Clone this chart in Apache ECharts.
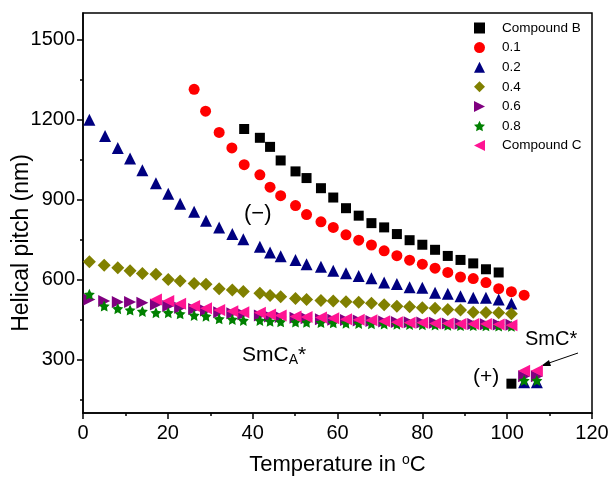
<!DOCTYPE html>
<html>
<head>
<meta charset="utf-8">
<script src="https://cdn.jsdelivr.net/npm/echarts@6/dist/echarts.min.js"></script>
<style>
  html, body { margin: 0; padding: 0; background: #fff; }
  #chart { width: 611px; height: 477px; }
</style>
</head>
<body>
<div id="chart"></div>
<script>
// Temperature (°C) and helical pitch (nm)
const tempB = [38, 41.7, 44.1, 46.6, 50.1, 52.7, 56.1, 59, 62, 65, 68, 71, 74, 77, 80, 83, 86, 89, 92, 95, 98, 101];
const pitchB = [1165, 1132, 1098, 1047, 1006, 981, 943, 908, 868, 840, 812, 796, 771, 748, 731, 712, 689, 674, 661, 639, 627, 210];

const temp01 = [26.2, 28.9, 32.1, 35.1, 38, 41.7, 44.1, 46.6, 50.1, 52.7, 56.1, 59, 62, 65, 68, 71, 74, 77, 80, 83, 86, 89, 92, 95, 98, 101, 104];
const pitch01 = [1314, 1232, 1152, 1094, 1031, 993, 947, 915, 878, 844, 817, 796, 768, 748, 730, 708, 690, 673, 658, 643, 627, 610, 604, 589, 566, 555, 542];

const temp02 = [1.5, 5.2, 8.2, 11.1, 14, 17.2, 20.1, 22.9, 26.2, 29, 32.1, 35.2, 37.8, 41.7, 44.1, 46.6, 50.1, 52.7, 56.1, 59, 62, 65, 68, 71, 74, 77, 80, 83, 86, 89, 92, 95, 98, 101, 104, 107];
const pitch02 = [1200, 1139, 1094, 1054, 1010, 962, 922, 885, 855, 821, 796, 771, 752, 723, 702, 688, 674, 658, 648, 633, 624, 614, 605, 589, 584, 572, 570, 551, 547, 538, 532, 532, 526, 511, 215, 215];

const temp04 = [1.5, 5, 8.2, 11.1, 14, 17.2, 20.1, 22.9, 26.2, 29, 32.1, 35.2, 37.8, 41.7, 44.1, 46.6, 50.1, 52.7, 56.1, 59, 62, 65, 68, 71, 74, 77, 80, 83, 86, 89, 92, 95, 98, 101];
const pitch04 = [667, 654, 645, 633, 623, 620, 601, 595, 586, 583, 566, 561, 556, 549, 541, 536, 529, 526, 522, 520, 517, 515, 512, 506, 500, 498, 495, 493, 488, 486, 478, 477, 476, 472];

const temp06 = [1.5, 5, 8.2, 11.1, 14, 17.2, 20.1, 22.9, 26.2, 29, 32.1, 35.2, 37.8, 41.7, 44.1, 46.6, 50.1, 52.7, 56.1, 59, 62, 65, 68, 71, 74, 77, 80, 83, 86, 89, 92, 95, 98, 101, 104, 107];
const pitch06 = [526, 520, 516, 516, 513, 507, 501, 495, 490, 484, 478, 474, 470, 466, 462, 460, 457, 455, 452, 450, 449, 447, 445, 443, 441, 440, 439, 438, 436, 435, 434, 433, 432, 431, 238, 238];

const temp08 = [1.5, 5, 8.2, 11.1, 14, 17.2, 20.1, 22.9, 26.2, 29, 32.1, 35.2, 37.8, 41.7, 44.1, 46.6, 50.1, 52.7, 56.1, 59, 62, 65, 68, 71, 74, 77, 80, 83, 86, 89, 92, 95, 98, 101, 104, 107];
const pitch08 = [545, 501, 491, 486, 481, 476, 476, 472, 466, 463, 453, 451, 447, 447, 444, 442, 441, 440, 439, 438, 437, 436, 435, 434, 433, 432, 431, 430, 429, 428, 428, 427, 426, 425, 222, 222];

const tempC = [17.2, 20.1, 22.9, 26.2, 29, 32.1, 35.2, 37.8, 41.7, 44.1, 46.6, 50.1, 52.7, 56.1, 59, 62, 65, 68, 71, 74, 77, 80, 83, 86, 89, 92, 95, 98, 101, 104, 107];
const pitchC = [526, 520, 510, 501, 493, 486, 482, 478, 476, 469, 466, 462, 460, 458, 455, 452, 450, 448, 444, 440, 438, 438, 436, 436, 434, 434, 434, 432, 429, 258, 258];

const seriesNames = ['Compound B', '0.1', '0.2', '0.4', '0.6', '0.8', 'Compound C'];
const yLabelValues = [300, 600, 900, 1200, 1500];
const yMinorValues = [150, 450, 750, 1050, 1350];

const starPath = 'path://M0,-10 L2.94,-4.05 9.51,-3.09 4.76,1.55 5.88,8.09 0,5 -5.88,8.09 -4.76,1.55 -9.51,-3.09 -2.94,-4.05 Z';
const rightTri = 'path://M0,0 L10,5 L0,10 Z';
const leftTri = 'path://M10,0 L0,5 L10,10 Z';

function pairs(xs, ys) {
    return xs.map((x, i) => [x, ys[i]]);
}

const font = 'Liberation Sans, Arial, sans-serif';

const chart = echarts.init(document.getElementById('chart'));

function scatter(name, xs, ys, symbol, size, color, rotate) {
    return {
        name: name,
        type: 'scatter',
        data: pairs(xs, ys),
        symbol: symbol,
        symbolSize: size,
        symbolRotate: rotate || 0,
        itemStyle: { color: color, opacity: 1 },
        emphasis: { disabled: true }
    };
}

// legend icons: the rotated triangles need their own shape
const legendData = seriesNames.map(n => {
    if (n === '0.6') return { name: n, icon: rightTri };
    if (n === 'Compound C') return { name: n, icon: leftTri };
    return { name: n };
});

chart.setOption({
    animation: false,
    backgroundColor: '#fff',
    grid: {
        left: 83, right: 19, top: 13, bottom: 64,
        containLabel: false,
        outerBoundsMode: 'none',
        show: true,
        borderColor: '#000',
        borderWidth: 1.5
    },
    legend: {
        orient: 'vertical',
        left: 469,
        top: 16,
        itemWidth: 11,
        itemHeight: 11,
        itemGap: 5.6,
        textStyle: { fontFamily: font, fontSize: 13.5, color: '#000', padding: [0, 0, 0, 12] },
        data: legendData
    },
    xAxis: {
        type: 'value',
        min: 0, max: 120, interval: 20,
        axisLine: { lineStyle: { color: '#000', width: 1.5 } },
        axisTick: { show: true, length: 6, lineStyle: { color: '#000', width: 1.5 } },
        minorTick: { show: true, splitNumber: 2, length: 3, lineStyle: { color: '#000', width: 1.5 } },
        splitLine: { show: false },
        axisLabel: { fontFamily: font, fontSize: 20, color: '#000', margin: 10 },
        name: 'Temperature in {sup|o}C',
        nameLocation: 'middle',
        nameGap: 40,
        nameTextStyle: {
            fontFamily: font, fontSize: 22, color: '#000',
            rich: { sup: { fontFamily: font, fontSize: 14, color: '#000', verticalAlign: 'top', padding: [0, 0, 10, 0] } }
        }
    },
    yAxis: [
        {
            type: 'value',
            min: 100, max: 1600,
            axisLine: { lineStyle: { color: '#000', width: 1.5 } },
            axisTick: { show: true, length: 6, customValues: yLabelValues, lineStyle: { color: '#000', width: 1.5 } },
            splitLine: { show: false },
            axisLabel: {
                customValues: yLabelValues,
                formatter: v => String(v),
                fontFamily: font, fontSize: 20, color: '#000', margin: 8
            }
        },
        {
            type: 'value',
            min: 100, max: 1600,
            position: 'left',
            axisLine: { show: false },
            axisTick: { show: true, length: 3, customValues: yMinorValues, lineStyle: { color: '#000', width: 1.5 } },
            axisLabel: { show: false },
            splitLine: { show: false }
        }
    ],
    series: [
        scatter('Compound B', tempB, pitchB, 'rect', 10, '#000000'),
        scatter('0.1', temp01, pitch01, 'circle', 11, '#ff0000'),
        scatter('0.2', temp02, pitch02, 'triangle', 12, '#000080'),
        scatter('0.4', temp04, pitch04, 'diamond', 13, '#808000'),
        scatter('0.6', temp06, pitch06, 'triangle', 12, '#800080', -90),
        scatter('0.8', temp08, pitch08, starPath, 11, '#008000'),
        scatter('Compound C', tempC, pitchC, 'triangle', 12, '#ff1493', 90)
    ],
    graphic: [
        {
            // y axis title, sits a bit below the plot centre in the original
            type: 'text', x: 22, y: 243, rotation: Math.PI / 2,
            style: { text: 'Helical pitch (nm)', fontFamily: font, fontSize: 23, fill: '#000', align: 'center', verticalAlign: 'middle' }
        },
        {
            type: 'text', left: 244, top: 203,
            style: { text: '(\u2212)', fontFamily: font, fontSize: 22, fill: '#000' }
        },
        {
            type: 'text', left: 242, top: 345,
            style: {
                text: 'SmC{sub|A}*',
                fontFamily: font, fontSize: 21, fill: '#000',
                rich: { sub: { fontFamily: font, fontSize: 14, fill: '#000', verticalAlign: 'bottom', padding: [10, 0, 0, 0] } }
            }
        },
        {
            type: 'text', left: 525, top: 329,
            style: { text: 'SmC*', fontFamily: font, fontSize: 20, fill: '#000' }
        },
        {
            type: 'text', left: 473, top: 367,
            style: { text: '(+)', fontFamily: font, fontSize: 21, fill: '#000' }
        },
        {
            type: 'line',
            shape: { x1: 578, y1: 353, x2: 546, y2: 364 },
            style: { stroke: '#000', lineWidth: 1 }
        },
        {
            type: 'polygon',
            shape: { points: [[541, 366], [549, 360], [551, 366]] },
            style: { fill: '#000' }
        }
    ]
});
</script>
</body>
</html>
